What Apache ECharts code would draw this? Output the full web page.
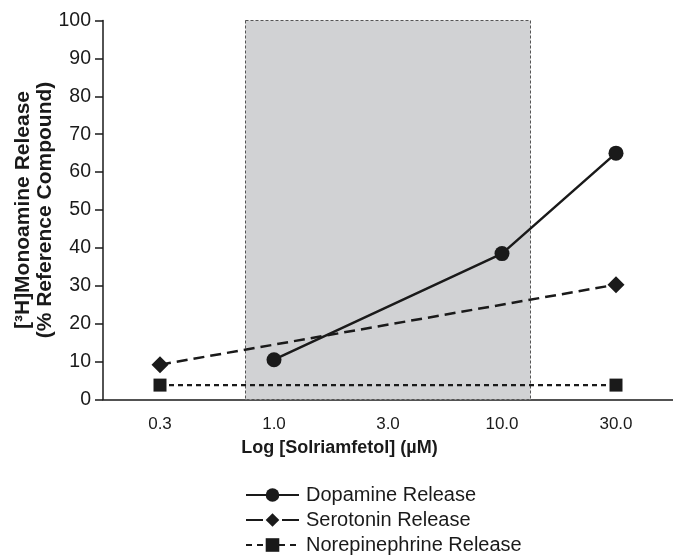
<!DOCTYPE html>
<html>
<head>
<meta charset="utf-8">
<script src="https://cdn.jsdelivr.net/npm/echarts@6/dist/echarts.min.js"></script>
<style>html,body{margin:0;padding:0;background:#fff;}#c{width:673px;height:556px;}</style>
</head>
<body>
<div id="c"></div>
<script>
const categories = ['0.3', '1.0', '3.0', '10.0', '30.0'];
const dopamine = [null, 10.5, null, 38.5, 65.0];
const serotonin = [9.2, null, null, null, 30.3];
const norepinephrine = [3.8, null, null, null, 3.8];
const shadeRange = [0.75, 3.25]; // in category-index units
const yTicks = [0, 10, 20, 30, 40, 50, 60, 70, 80, 90, 100];

const FONT = '"Liberation Sans", Arial, Helvetica, sans-serif';
const INK = '#1a1a1a';

const chart = echarts.init(document.getElementById('c'), null, {renderer: 'canvas'});
chart.setOption({
  animation: false,
  backgroundColor: '#ffffff',
  grid: {left: 103, right: 0, top: 20.5, bottom: 156.5, containLabel: false, outerBoundsMode: 'none'},
  xAxis: [{
    type: 'category',
    data: categories,
    boundaryGap: true,
    axisLine: {lineStyle: {color: INK, width: 1.5}},
    axisTick: {alignWithLabel: true, length: 8, lineStyle: {color: INK, width: 1.5}},
    axisLabel: {color: INK, fontFamily: FONT, fontSize: 17, margin: 16},
    name: 'Log [Solriamfetol] (µM)',
    nameLocation: 'middle',
    nameGap: 40,
    nameMoveOverlap: false,
    nameTextStyle: {color: INK, fontFamily: FONT, fontSize: 18, fontWeight: 'bold', padding: [0, 97, 0, 0]},
    splitLine: {show: false}
  }, {
    type: 'value',
    min: -0.5, max: 4.5,
    show: false,
    splitLine: {show: false}
  }],
  yAxis: {
    type: 'value',
    min: yTicks[0], max: yTicks[yTicks.length - 1], interval: 10,
    axisLine: {show: true, onZero: false, lineStyle: {color: INK, width: 1.5}},
    axisTick: {show: true, length: 8, lineStyle: {color: INK, width: 1.5}},
    axisLabel: {color: INK, fontFamily: FONT, fontSize: 19.5, margin: 12},
    splitLine: {show: false},
    name: '[³H]Monoamine Release\n(% Reference Compound)',
    nameLocation: 'middle',
    nameGap: 47,
    nameMoveOverlap: false,
    nameTextStyle: {color: INK, fontFamily: FONT, fontSize: 21, fontWeight: 'bold', lineHeight: 22}
  },
  legend: {
    orient: 'vertical',
    left: 240,
    top: 480,
    height: 90,
    itemWidth: 53,
    itemHeight: 17,
    itemGap: 5,
    textStyle: {color: INK, fontFamily: FONT, fontSize: 20, padding: [0, 0, 0, 2]},
    data: [
      {name: 'Dopamine Release', lineStyle: {type: 'solid'}},
      {name: 'Serotonin Release', lineStyle: {type: [17, 19]}},
      {name: 'Norepinephrine Release', lineStyle: {type: [6, 5]}}
    ]
  },
  series: [
    {
      name: 'shade',
      type: 'line',
      xAxisIndex: 1,
      data: [],
      z: 1,
      silent: true,
      markArea: {
        silent: true,
        itemStyle: {color: '#d1d2d4', borderColor: '#555', borderWidth: 1, borderType: [3, 2]},
        data: [[{xAxis: shadeRange[0], yAxis: yTicks[yTicks.length - 1]}, {xAxis: shadeRange[1], yAxis: yTicks[0]}]]
      }
    },
    {
      name: 'Norepinephrine Release',
      type: 'line',
      data: norepinephrine,
      connectNulls: true,
      symbol: 'rect',
      symbolSize: 13,
      z: 3,
      itemStyle: {color: INK},
      lineStyle: {color: INK, width: 2.2, type: [5, 4]}
    },
    {
      name: 'Serotonin Release',
      type: 'line',
      data: serotonin,
      connectNulls: true,
      symbol: 'diamond',
      symbolSize: [17, 17],
      z: 3,
      itemStyle: {color: INK},
      lineStyle: {color: INK, width: 2.5, type: [11, 6]}
    },
    {
      name: 'Dopamine Release',
      type: 'line',
      data: dopamine,
      connectNulls: true,
      symbol: 'circle',
      symbolSize: 15,
      z: 3,
      itemStyle: {color: INK},
      lineStyle: {color: INK, width: 2.5}
    }
  ]
});
</script>
</body>
</html>
